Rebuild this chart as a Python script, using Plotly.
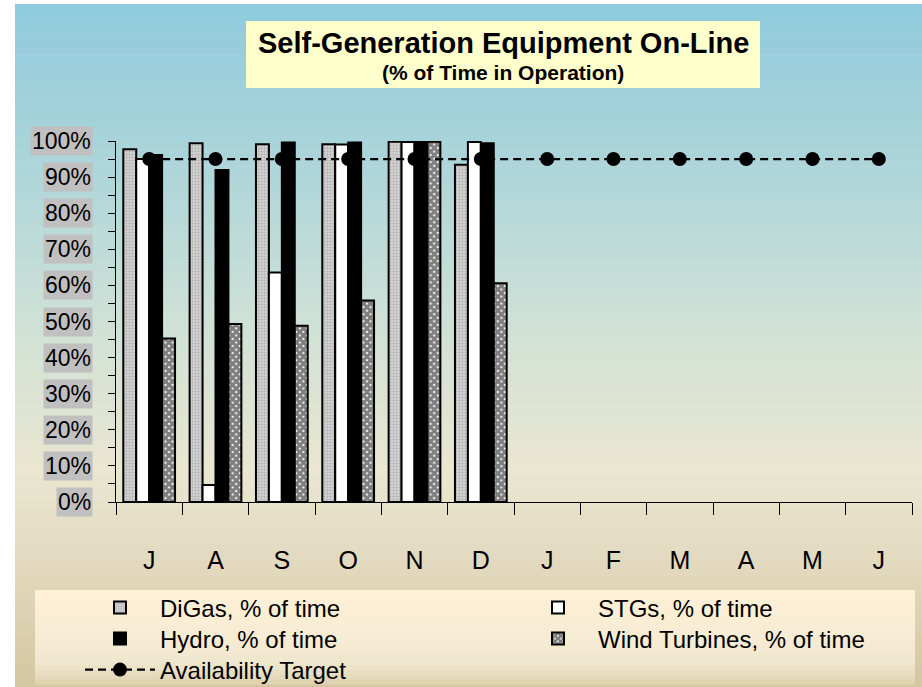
import plotly.graph_objects as go

W, H = 922, 687
PLOT_L, PLOT_R, PLOT_T, PLOT_B = 116, 912, 141, 502

months = ["J", "A", "S", "O", "N", "D", "J", "F", "M", "A", "M", "J"]
digas = [97.7, 99.4, 99.1, 99.1, 99.8, 93.4, None, None, None, None, None, None]
stgs = [95.0, 4.7, 63.6, 99.0, 99.7, 99.7, None, None, None, None, None, None]
hydro = [96.1, 92.0, 99.6, 99.6, 99.9, 99.4, None, None, None, None, None, None]
wind = [45.3, 49.3, 48.8, 55.8, 99.8, 60.6, None, None, None, None, None, None]
target = [95, 95, 95, 95, 95, 95, 95, 95, 95, 95, 95, 95]
y_ticks = [0, 10, 20, 30, 40, 50, 60, 70, 80, 90, 100]
y_tick_labels = ["0%", "10%", "20%", "30%", "40%", "50%", "60%", "70%", "80%", "90%", "100%"]

FONT = "Arial, Liberation Sans, sans-serif"
x_pos = list(range(len(months)))


def px_x(p):
    return (p - PLOT_L) / (PLOT_R - PLOT_L)


def px_y(p):
    return (PLOT_B - p) / (PLOT_B - PLOT_T)


def mix(stops, t):
    for (p0, c0), (p1, c1) in zip(stops, stops[1:]):
        if p0 <= t <= p1:
            f = (t - p0) / (p1 - p0) if p1 > p0 else 0
            return "rgb(%d,%d,%d)" % tuple(round(a + (b - a) * f) for a, b in zip(c0, c1))
    return "rgb(%d,%d,%d)" % stops[-1][1]


def gradient(x0, x1, y0, y1, stops, n=60):
    # vertical colour ramp drawn as thin paper-referenced strips
    shapes = []
    step = (y1 - y0) / n
    for i in range(n):
        top = y0 + i * step
        shapes.append(dict(
            type="rect", xref="paper", yref="paper", layer="below",
            x0=px_x(x0), x1=px_x(x1), y0=px_y(top + step + 0.6), y1=px_y(top),
            fillcolor=mix(stops, top + step / 2), line=dict(width=0),
        ))
    return shapes


bg_stops = [
    (4, (143, 203, 221)),
    (150, (170, 212, 218)),
    (320, (206, 225, 214)),
    (470, (234, 230, 208)),
    (560, (226, 218, 192)),
    (687, (212, 198, 160)),
]
legend_stops = [
    (590, (255, 240, 214)),
    (640, (246, 236, 212)),
    (665, (238, 230, 204)),
    (684, (222, 210, 176)),
]

shapes = gradient(15, W, 4, H, bg_stops, n=80) + gradient(35, 915, 590, 684, legend_stops, n=20)
# title box
shapes.append(dict(
    type="rect", xref="paper", yref="paper", layer="below",
    x0=px_x(246), x1=px_x(760), y0=px_y(88), y1=px_y(21),
    fillcolor="#ffffcc", line=dict(width=0),
))

fig = go.Figure()

fig.add_trace(go.Bar(
    x=x_pos, y=digas, name="DiGas, % of time", legend="legend",
    marker=dict(color="#cfcfcf", line=dict(color="black", width=2),
                pattern=dict(shape=".", size=3, solidity=0.5, fgcolor="#8f8f8f", bgcolor="#dadada")),
))
fig.add_trace(go.Bar(
    x=x_pos, y=stgs, name="STGs, % of time", legend="legend2",
    marker=dict(color="white", line=dict(color="black", width=2)),
))
fig.add_trace(go.Bar(
    x=x_pos, y=hydro, name="Hydro, % of time", legend="legend3",
    marker=dict(color="black", line=dict(color="black", width=2)),
))
fig.add_trace(go.Bar(
    x=x_pos, y=wind, name="Wind Turbines, % of time", legend="legend4",
    marker=dict(color="white", line=dict(color="black", width=2),
                pattern=dict(shape="x", size=5, solidity=0.85, fgcolor="black", bgcolor="white")),
))
fig.add_trace(go.Scatter(
    x=x_pos, y=target, name="Availability Target", mode="lines+markers", legend="legend5",
    line=dict(color="black", width=2.2, dash="8px,5px"),
    marker=dict(color="black", size=14),
))

annotations = []
for v, lab in zip(y_ticks, y_tick_labels):
    annotations.append(dict(
        xref="paper", yref="y", x=0, y=v, xanchor="right", yanchor="middle",
        xshift=-23, text=lab, showarrow=False, bgcolor="#c0c0c0", borderpad=1,
        font=dict(family=FONT, size=23, color="black"),
    ))

annotations.append(dict(
    xref="paper", yref="paper", x=px_x(503), y=px_y(43),
    xanchor="center", yanchor="middle", showarrow=False,
    text="<b>Self-Generation Equipment On-Line</b>",
    font=dict(family=FONT, size=29, color="black"),
))
annotations.append(dict(
    xref="paper", yref="paper", x=px_x(503), y=px_y(72),
    xanchor="center", yanchor="middle", showarrow=False,
    text="<b>(% of Time in Operation)</b>",
    font=dict(family=FONT, size=21, color="black"),
))


def legend_at(left, middle):
    return dict(
        orientation="v", xanchor="left", yanchor="middle", x=px_x(left), y=px_y(middle),
        bgcolor="rgba(0,0,0,0)", itemwidth=70,
        font=dict(family=FONT, size=24, color="black"),
    )


fig.update_layout(
    width=W, height=H,
    margin=dict(l=PLOT_L, r=W - PLOT_R, t=PLOT_T, b=H - PLOT_B, autoexpand=False),
    paper_bgcolor="white", plot_bgcolor="rgba(0,0,0,0)",
    barmode="group", bargap=0.22, bargroupgap=0,
    font=dict(family=FONT, color="black"),
    shapes=shapes, annotations=annotations,
    showlegend=True,
    legend=legend_at(80, 608),
    legend2=legend_at(518, 608),
    legend3=legend_at(80, 639),
    legend4=legend_at(518, 639),
    legend5=legend_at(80, 670),
)

fig.update_xaxes(
    range=[-0.5, 11.5], tickvals=x_pos, ticktext=months,
    showgrid=False, zeroline=False, showline=True, linecolor="black", linewidth=1,
    ticks="", ticklabelstandoff=36,
    tickfont=dict(family=FONT, size=25, color="black"),
    minor=dict(tick0=0.5, dtick=1, ticks="outside", ticklen=12, tickcolor="black", showgrid=False),
)
fig.update_yaxes(
    range=[0, 100], showticklabels=False,
    showgrid=False, zeroline=False, showline=True, linecolor="black", linewidth=1,
    tickvals=y_ticks, ticks="outside", ticklen=7, tickcolor="black",
    minor=dict(dtick=5, ticks="outside", ticklen=7, tickcolor="black", showgrid=False),
)

fig.write_html(
    "out.html",
    config={"displayModeBar": False},
    post_script="document.body.style.margin='0';document.body.style.overflow='hidden';",
)
